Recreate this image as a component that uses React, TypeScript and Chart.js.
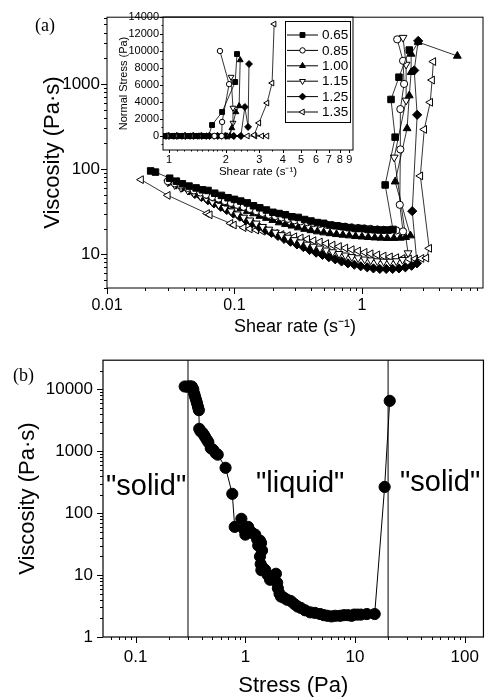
import React, { useEffect, useRef } from 'react';
import { Chart, registerables } from 'chart.js';
import { drawPoint } from 'chart.js/helpers';

Chart.register(...registerables);
Chart.defaults.font.family = "'Liberation Sans', Arial, Helvetica, sans-serif";
Chart.defaults.color = '#000';

// ---------------- Panel (a): viscosity vs shear rate ----------------
const seriesLabels = ['0.65', '0.85', '1.00', '1.15', '1.25', '1.35'];

const rate065 = [0.022, 0.024, 0.031, 0.035, 0.039, 0.044, 0.05, 0.056, 0.062, 0.07,
  0.079, 0.089, 0.1, 0.112, 0.126, 0.141, 0.158, 0.178, 0.2, 0.224,
  0.251, 0.282, 0.316, 0.355, 0.398, 0.447, 0.501, 0.562, 0.631, 0.708,
  0.794, 0.891, 1.0, 1.12, 1.26, 1.41, 1.58, 1.75,
  1.52, 1.82, 1.69, 1.95, 2.35];
const visc065 = [95, 92, 78, 72, 67, 63, 60, 57, 56, 52,
  49, 46, 44, 42, 40, 37, 35, 33, 31, 30,
  29, 27.5, 27, 25.5, 24.5, 23.5, 23, 22, 21.5, 21,
  20.5, 20, 20, 19.5, 19.3, 19.2, 19.2, 19.5,
  65, 237, 657, 1200, 2500];

const rate085 = [0.03, 0.034, 0.038, 0.043, 0.048, 0.054, 0.06, 0.067, 0.075, 0.084,
  0.094, 0.105, 0.118, 0.132, 0.148, 0.166, 0.186, 0.209, 0.234, 0.263,
  0.295, 0.331, 0.372, 0.417, 0.468, 0.525, 0.589, 0.661, 0.741, 0.832,
  0.933, 1.05, 1.17, 1.32, 1.48, 1.66, 1.86, 2.1,
  1.98, 2.0, 2.0, 2.14, 2.1, 1.89];
const visc085 = [72, 68, 64, 60, 56, 53, 50, 47, 45, 42,
  40, 38, 36, 34, 32, 30.5, 29, 28, 27, 26,
  25, 24.3, 23.7, 23.2, 22.7, 22.2, 21.8, 21.4, 21, 20.6,
  20.3, 20, 19.8, 19.5, 19.3, 19.2, 19, 18.5,
  38, 170, 506, 1000, 1870, 3340];

const rate100 = [0.032, 0.036, 0.04, 0.045, 0.05, 0.056, 0.063, 0.071, 0.079, 0.089,
  0.1, 0.112, 0.126, 0.141, 0.158, 0.178, 0.2, 0.224, 0.251, 0.282,
  0.316, 0.355, 0.398, 0.447, 0.501, 0.562, 0.631, 0.708, 0.794, 0.891,
  1.0, 1.12, 1.26, 1.41, 1.58, 1.78, 2.0, 2.2, 2.4,
  1.82, 2.26, 2.35, 2.43, 2.43, 2.76, 5.6];
const visc100 = [75, 70, 65, 60, 56, 52, 48, 45, 42, 39,
  37, 34.5, 32, 30, 28, 26.5, 25, 23.5, 22.5, 21.5,
  20.5, 19.7, 19, 18.4, 17.9, 17.5, 17.1, 16.8, 16.5, 16.2,
  16, 15.8, 15.6, 15.5, 15.4, 15.4, 15.5, 15.8, 16.5,
  71, 300, 730, 1370, 2250, 3100, 2130];

const rate115 = [0.03, 0.034, 0.038, 0.043, 0.048, 0.054, 0.06, 0.067, 0.075, 0.084,
  0.094, 0.105, 0.118, 0.132, 0.148, 0.166, 0.186, 0.209, 0.234, 0.263,
  0.295, 0.331, 0.372, 0.417, 0.468, 0.525, 0.589, 0.661, 0.741, 0.832,
  0.933, 1.05, 1.17, 1.32, 1.48, 1.66, 1.86, 2.08, 2.3,
  1.79, 2.22, 2.22, 2.1];
const visc115 = [70, 65, 60, 56, 52, 48, 45, 41, 38, 35,
  32, 29.5, 27, 25, 23, 21, 19.5, 18, 16.8, 15.7,
  14.7, 13.8, 13, 12.3, 11.7, 11.1, 10.6, 10.1, 9.7, 9.3,
  9.0, 8.7, 8.5, 8.3, 8.2, 8.2, 8.3, 8.6, 10.3,
  137, 640, 1690, 3500];

const rate125 = [0.031, 0.035, 0.039, 0.044, 0.049, 0.055, 0.062, 0.069, 0.078, 0.087,
  0.098, 0.11, 0.123, 0.138, 0.155, 0.174, 0.195, 0.219, 0.245, 0.275,
  0.309, 0.347, 0.389, 0.437, 0.49, 0.55, 0.617, 0.692, 0.776, 0.871,
  0.977, 1.1, 1.23, 1.38, 1.55, 1.74, 1.95, 2.19, 2.45, 2.7,
  2.48, 2.71, 2.57, 2.76];
const visc125 = [72, 66, 61, 56, 51, 47, 43, 39.5, 36, 33,
  30, 27.5, 25, 23, 21, 19.3, 17.8, 16.4, 15.1, 14,
  13, 12.1, 11.2, 10.4, 9.8, 9.2, 8.7, 8.2, 7.8, 7.5,
  7.2, 7.0, 6.8, 6.7, 6.7, 6.7, 6.8, 7.0, 7.3, 7.8,
  32, 433, 1440, 3200];

const rate135 = [0.0185, 0.03, 0.061, 0.064, 0.093, 0.099, 0.118, 0.132, 0.148, 0.166,
  0.186, 0.209, 0.234, 0.263, 0.295, 0.331, 0.372, 0.417, 0.468, 0.525,
  0.589, 0.661, 0.741, 0.832, 0.933, 1.05, 1.17, 1.32, 1.48, 1.66,
  1.86, 2.08, 2.34, 2.62, 2.93, 3.2, 3.37,
  2.87, 3.08, 3.43, 3.55, 3.63];
const visc135 = [75, 49, 30, 29, 23, 22, 20.5, 19.8, 19.2, 18.6,
  18, 17.5, 17, 16.5, 16, 15.5, 15, 14.4, 13.9, 13.3,
  12.8, 12.3, 11.8, 11.3, 10.9, 10.5, 10.1, 9.8, 9.5, 9.3,
  9.1, 8.9, 8.8, 8.8, 8.9, 9.0, 11.7,
  83, 292, 608, 1110, 1830];

const mainXMajor = [0.01, 0.1, 1];
const mainXMinor = [0.02, 0.03, 0.04, 0.05, 0.06, 0.07, 0.08, 0.09,
  0.2, 0.3, 0.4, 0.5, 0.6, 0.7, 0.8, 0.9, 2, 3, 4, 5, 6, 7, 8];
const mainYMajor = [10, 100, 1000];
const mainYMinor = [4, 5, 6, 7, 8, 9, 20, 30, 40, 50, 60, 70, 80, 90,
  200, 300, 400, 500, 600, 700, 800, 900, 2000, 3000, 4000, 5000, 6000];

// ---------------- Inset: normal stress vs shear rate ----------------
const nsRate065 = [0.95, 1.05, 1.16, 1.28, 1.41, 1.55, 1.62, 1.69, 1.91, 2.24, 2.29];
const ns065 = [0, 0, 0, 0, 0, 0, 0, 1290, 2820, 6350, 9640];
const nsRate085 = [0.97, 1.07, 1.18, 1.3, 1.43, 1.58, 1.74, 1.9, 1.91, 2.08, 1.86];
const ns085 = [0, 0, 0, 0, 0, 0, 0, 0, 1650, 6100, 10000];
const nsRate100 = [0.99, 1.1, 1.21, 1.34, 1.48, 1.63, 1.8, 1.98, 2.1, 2.15, 2.26, 2.35, 2.38];
const ns100 = [0, 0, 0, 0, 0, 0, 0, 0, 0, 940, 2820, 3530, 8940];
const nsRate115 = [0.96, 1.06, 1.17, 1.29, 1.42, 1.57, 1.73, 1.9, 2.08, 2.18, 2.18, 2.13];
const ns115 = [0, 0, 0, 0, 0, 0, 0, 0, 0, 1530, 3300, 6940];
const nsRate125 = [1.0, 1.1, 1.22, 1.35, 1.49, 1.64, 1.81, 2.0, 2.2, 2.4, 2.52, 2.62, 2.65];
const ns125 = [0, 0, 0, 0, 0, 0, 0, 0, 0, 0, 3410, 1060, 8470];
const nsRate135 = [0.95, 1.02, 1.1, 1.2, 1.3, 1.42, 1.55, 1.7, 1.85, 2.0,
  2.18, 2.38, 2.6, 2.85, 3.1, 3.3, 2.82, 2.99, 3.3, 3.51, 3.6];
const ns135 = [0, 0, 0, 0, 0, 0, 0, 0, 0, 0,
  0, 0, 0, 0, 0, 0, 120, 1530, 3880, 6230, 13170];

const insetXMajor = [1, 2, 3, 4, 5, 6, 7, 8, 9];
const insetXMinor = [1.1, 1.2, 1.3, 1.4, 1.5, 1.6, 1.7, 1.8, 1.9, 2.2, 2.4, 2.6, 2.8, 3.5];
const insetYMajor = [0, 2000, 4000, 6000, 8000, 10000, 12000, 14000];
const insetYMinor = [-1000, 1000, 3000, 5000, 7000, 9000, 11000, 13000];

// ---------------- Panel (b): viscosity vs stress ----------------
const stressB = [0.28, 0.295, 0.31, 0.325, 0.335, 0.342, 0.348, 0.355, 0.362, 0.37,
  0.377, 0.38, 0.39, 0.405, 0.418, 0.43, 0.445, 0.46, 0.484, 0.51,
  0.537, 0.56, 0.66, 0.76, 0.8, 0.92, 0.97, 1.0, 1.06, 1.1,
  1.15, 1.23, 1.28, 1.31, 1.36, 1.39, 1.42, 1.36, 1.38, 1.4,
  1.45, 1.52, 1.6, 1.68, 1.78, 1.9, 1.95, 1.98, 2.05, 2.11,
  2.25, 2.4, 2.6, 2.8, 3.0, 3.2, 3.5, 3.9, 4.3, 4.8,
  5.2, 5.6, 6.1, 6.6, 7.3, 7.9, 8.6, 9.3, 9.8, 10.5,
  11.3, 12.8, 15.1, 18.6, 20.7];
const viscB = [11100, 11000, 11200, 11100, 10000, 8500, 7600, 6800, 6000, 5200,
  4600, 2300, 2100, 2000, 1850, 1700, 1540, 1400, 1120, 1050,
  930, 880, 540, 205, 60, 81, 55, 45, 60, 52,
  48, 45, 38, 30, 36, 33, 25, 20, 15, 12,
  13, 12, 10, 8.4, 9.5, 10.5, 7.5, 6.1, 5.0, 4.5,
  4.3, 4.0, 3.8, 3.4, 3.1, 2.95, 2.7, 2.5, 2.45, 2.35,
  2.25, 2.2, 2.15, 2.2, 2.2, 2.25, 2.25, 2.2, 2.3, 2.3,
  2.3, 2.35, 2.35, 265, 6500];
const phaseBoundaries = [0.3, 20];
const phaseLabels = ['"solid"', '"liquid"', '"solid"'];

const bXMajor = [0.1, 1, 10, 100];
const bXMinor = [0.06, 0.07, 0.08, 0.09, 0.2, 0.3, 0.4, 0.5, 0.6, 0.7, 0.8, 0.9,
  2, 3, 4, 5, 6, 7, 8, 9, 20, 30, 40, 50, 60, 70, 80, 90];
const bYMajor = [1, 10, 100, 1000, 10000];
const bYMinor = [2, 3, 4, 5, 6, 7, 8, 9, 20, 30, 40, 50, 60, 70, 80, 90,
  200, 300, 400, 500, 600, 700, 800, 900, 2000, 3000, 4000, 5000, 6000, 7000, 8000, 9000, 20000];

// ---------------- styles ----------------
const markerStyles = [
  { pointStyle: 'rect', rotation: 0, fill: true, radius: 4.6 },
  { pointStyle: 'circle', rotation: 0, fill: false, radius: 3.6 },
  { pointStyle: 'triangle', rotation: 0, fill: true, radius: 4.5 },
  { pointStyle: 'triangle', rotation: 180, fill: false, radius: 4.5 },
  { pointStyle: 'rectRot', rotation: 0, fill: true, radius: 4.6 },
  { pointStyle: 'triangle', rotation: 270, fill: false, radius: 4.5 },
];

const mainSeries = [
  [rate065, visc065], [rate085, visc085], [rate100, visc100],
  [rate115, visc115], [rate125, visc125], [rate135, visc135],
];
const insetSeries = [
  [nsRate065, ns065], [nsRate085, ns085], [nsRate100, ns100],
  [nsRate115, ns115], [nsRate125, ns125], [nsRate135, ns135],
];

function pairs(xs: number[], ys: number[]) {
  return xs.map((x, i) => ({ x, y: ys[i] }));
}

function makeFramePlugin(o: {
  xMajor: number[]; xMinor: number[]; yMajor: number[]; yMinor: number[];
  majorLen: number; minorLen: number; width: number;
}) {
  return {
    id: 'frameTicks',
    afterDraw(chart: any) {
      const { ctx, chartArea: a, scales } = chart;
      ctx.save();
      ctx.strokeStyle = '#000';
      ctx.lineWidth = o.width;
      ctx.strokeRect(a.left, a.top, a.right - a.left, a.bottom - a.top);
      ctx.lineWidth = 1;
      ctx.beginPath();
      const xs = scales.x;
      const ys = scales.y;
      const xt = (v: number, len: number) => {
        if (v < xs.min || v > xs.max) return;
        const p = Math.round(xs.getPixelForValue(v)) + 0.5;
        ctx.moveTo(p, a.bottom);
        ctx.lineTo(p, a.bottom + len);
      };
      const yt = (v: number, len: number) => {
        if (v < ys.min || v > ys.max) return;
        const p = Math.round(ys.getPixelForValue(v)) + 0.5;
        ctx.moveTo(a.left, p);
        ctx.lineTo(a.left - len, p);
      };
      o.xMajor.forEach((v) => xt(v, o.majorLen));
      o.xMinor.forEach((v) => xt(v, o.minorLen));
      o.yMajor.forEach((v) => yt(v, o.majorLen));
      o.yMinor.forEach((v) => yt(v, o.minorLen));
      ctx.stroke();
      ctx.restore();
    },
  };
}

function makeTextsPlugin(items: { text: string; x: number; y: number; font: string }[]) {
  return {
    id: 'texts',
    afterDraw(chart: any) {
      const ctx = chart.ctx;
      ctx.save();
      ctx.fillStyle = '#000';
      ctx.textBaseline = 'alphabetic';
      ctx.textAlign = 'left';
      items.forEach((it) => {
        ctx.font = it.font;
        ctx.fillText(it.text, it.x, it.y);
      });
      ctx.restore();
    },
  };
}

function makeLegendPlugin(o: {
  box: number[]; firstRow: number; rowStep: number; lineX0: number; lineX1: number;
  textX: number; font: string; scale: number;
}) {
  return {
    id: 'insetLegend',
    afterDatasetsDraw(chart: any) {
      const ctx = chart.ctx;
      ctx.save();
      const [l, t, r, b] = o.box;
      ctx.fillStyle = '#fff';
      ctx.fillRect(l, t, r - l, b - t);
      ctx.strokeStyle = '#000';
      ctx.lineWidth = 1;
      ctx.strokeRect(l + 0.5, t + 0.5, r - l, b - t);
      chart.data.datasets.forEach((ds: any, i: number) => {
        const y = o.firstRow + i * o.rowStep;
        ctx.beginPath();
        ctx.strokeStyle = '#000';
        ctx.lineWidth = 1;
        ctx.moveTo(o.lineX0, y);
        ctx.lineTo(o.lineX1, y);
        ctx.stroke();
        ctx.fillStyle = ds.pointBackgroundColor;
        ctx.strokeStyle = '#000';
        ctx.lineWidth = 1;
        drawPoint(ctx, {
          pointStyle: ds.pointStyle, rotation: ds.pointRotation,
          radius: ds.pointRadius * o.scale, borderWidth: 1,
        } as any, (o.lineX0 + o.lineX1) / 2, y);
        ctx.fillStyle = '#000';
        ctx.font = o.font;
        ctx.textBaseline = 'middle';
        ctx.textAlign = 'left';
        ctx.fillText(ds.label, o.textX, y + 0.5);
      });
      ctx.restore();
    },
  };
}

function axis(o: {
  type: string; min: number; max: number; major: number[]; horizontal: boolean; size: number;
  fontSize: number; padding: number; title: string; titleSize: number; titlePad: any;
}) {
  return {
    type: o.type,
    min: o.min,
    max: o.max,
    afterBuildTicks: (s: any) => { s.ticks = o.major.map((value) => ({ value })); },
    afterFit: (s: any) => { if (o.horizontal) s.height = o.size; else s.width = o.size; },
    grid: { display: false, drawTicks: false },
    border: { display: false },
    ticks: {
      autoSkip: false, maxRotation: 0, minRotation: 0, padding: o.padding,
      font: { size: o.fontSize }, color: '#000',
      callback: (v: any) => String(v),
    },
    title: {
      display: true, text: o.title, color: '#000',
      font: { size: o.titleSize }, padding: o.titlePad,
    },
  };
}

function lineDataset(label: string, data: any[], i: number, scale: number, bw: number) {
  const ms = markerStyles[i];
  return {
    label,
    data,
    borderColor: '#000',
    borderWidth: bw,
    pointStyle: ms.pointStyle,
    pointRotation: ms.rotation,
    pointRadius: ms.radius * scale,
    pointBackgroundColor: ms.fill ? '#000' : '#fff',
    pointBorderColor: '#000',
    pointBorderWidth: 1,
    fill: false,
    tension: 0,
  };
}

export default function App() {
  const refA = useRef<HTMLCanvasElement>(null);
  const refInset = useRef<HTMLCanvasElement>(null);
  const refB = useRef<HTMLCanvasElement>(null);

  useEffect(() => {
    const charts: Chart[] = [];

    // Panel (a)
    charts.push(new Chart(refA.current as HTMLCanvasElement, {
      type: 'line',
      data: {
        datasets: mainSeries.map(([xs, ys], i) =>
          lineDataset(seriesLabels[i], pairs(xs, ys), i, 1, 0.8)) as any,
      },
      options: {
        responsive: false,
        animation: false,
        events: [],
        layout: { autoPadding: false, padding: { left: 0, top: 8, right: 6, bottom: 0 } },
        plugins: { legend: { display: false }, tooltip: { enabled: false } },
        scales: {
          x: axis({ type: 'logarithmic', min: 0.01, max: 8.9, major: mainXMajor, horizontal: true, size: 57,
            fontSize: 16, padding: 8, title: 'Shear rate (s\u207B\u00B9)', titleSize: 18, titlePad: { top: 0, bottom: 7 } }),
          y: axis({ type: 'logarithmic', min: 4, max: 6080, major: mainYMajor, horizontal: false, size: 107,
            fontSize: 17, padding: 7, title: 'Viscosity (Pa\u00B7s)', titleSize: 22, titlePad: { top: 40, bottom: 0 } }),
        } as any,
      },
      plugins: [
        makeFramePlugin({ xMajor: mainXMajor, xMinor: mainXMinor, yMajor: mainYMajor, yMinor: mainYMinor, majorLen: 6, minorLen: 3, width: 1 }),
        makeTextsPlugin([{ text: '(a)', x: 35, y: 31, font: "18px 'Liberation Serif', 'Times New Roman', serif" }]),
      ],
    } as any));

    // Inset
    charts.push(new Chart(refInset.current as HTMLCanvasElement, {
      type: 'line',
      data: {
        datasets: insetSeries.map(([xs, ys], i) =>
          lineDataset(seriesLabels[i], pairs(xs, ys), i, 0.75, 0.8)) as any,
      },
      options: {
        responsive: false,
        animation: false,
        events: [],
        layout: { autoPadding: false, padding: { left: 0, top: 12, right: 12, bottom: 0 } },
        plugins: { legend: { display: false }, tooltip: { enabled: false } },
        scales: {
          x: axis({ type: 'logarithmic', min: 0.93, max: 9.4, major: insetXMajor, horizontal: true, size: 35,
            fontSize: 11, padding: 3, title: 'Shear rate (s\u207B\u00B9)', titleSize: 11.5, titlePad: { top: 0, bottom: 6 } }),
          y: axis({ type: 'linear', min: -1650, max: 14000, major: insetYMajor, horizontal: false, size: 63,
            fontSize: 11, padding: 4, title: 'Normal Stress (Pa)', titleSize: 11, titlePad: { top: 17, bottom: 0 } }),
        } as any,
      },
      plugins: [
        makeFramePlugin({ xMajor: insetXMajor, xMinor: insetXMinor, yMajor: insetYMajor, yMinor: insetYMinor, majorLen: 3, minorLen: 1.5, width: 1 }),
        makeLegendPlugin({ box: [185, 16, 250, 117], firstRow: 30, rowStep: 15.4, lineX0: 187, lineX1: 218,
          textX: 222, font: "13.5px 'Liberation Sans', Arial, sans-serif", scale: 1 }),
      ],
    } as any));

    // Panel (b)
    const bYMin = 1;
    const bYMax = 29500;
    charts.push(new Chart(refB.current as HTMLCanvasElement, {
      type: 'line',
      data: {
        datasets: [
          {
            label: 'viscosity',
            data: pairs(stressB, viscB),
            borderColor: '#000',
            borderWidth: 1,
            pointStyle: 'circle',
            pointRadius: 5.6,
            pointBackgroundColor: '#000',
            pointBorderColor: '#000',
            pointBorderWidth: 1,
            fill: false,
            tension: 0,
          },
          ...phaseBoundaries.map((b) => ({
            label: 'boundary ' + b,
            data: [{ x: b, y: bYMin }, { x: b, y: bYMax }],
            borderColor: '#000',
            borderWidth: 1,
            pointRadius: 0,
            fill: false,
          })),
        ] as any,
      },
      options: {
        responsive: false,
        animation: false,
        events: [],
        layout: { autoPadding: false, padding: { left: 0, top: 11, right: 1, bottom: 0 } },
        plugins: { legend: { display: false }, tooltip: { enabled: false } },
        scales: {
          x: axis({ type: 'logarithmic', min: 0.0504, max: 148, major: bXMajor, horizontal: true, size: 63,
            fontSize: 17, padding: 10, title: 'Stress (Pa)', titleSize: 22, titlePad: { top: 0, bottom: 1 } }),
          y: axis({ type: 'logarithmic', min: bYMin, max: bYMax, major: bYMajor, horizontal: false, size: 103,
            fontSize: 17, padding: 10, title: 'Viscosity (Pa\u00B7s)', titleSize: 22, titlePad: { top: 15, bottom: 0 } }),
        } as any,
      },
      plugins: [
        makeFramePlugin({ xMajor: bXMajor, xMinor: bXMinor, yMajor: bYMajor, yMinor: bYMinor, majorLen: 6, minorLen: 3, width: 1.2 }),
        makeTextsPlugin([
          { text: '(b)', x: 13, y: 41, font: "18px 'Liberation Serif', 'Times New Roman', serif" },
          { text: phaseLabels[0], x: 106, y: 155, font: "29px 'Liberation Sans', Arial, sans-serif" },
          { text: phaseLabels[1], x: 256, y: 152, font: "29px 'Liberation Sans', Arial, sans-serif" },
          { text: phaseLabels[2], x: 400, y: 151, font: "29px 'Liberation Sans', Arial, sans-serif" },
        ]),
      ],
    } as any));

    return () => { charts.forEach((c) => c.destroy()); };
  }, []);

  return (
    <div style={{ position: 'absolute', left: 0, top: 0, width: 489, height: 700, background: '#fff', overflow: 'hidden' }}>
      <canvas ref={refA} width={489} height={345} style={{ position: 'absolute', left: 0, top: 0, width: 489, height: 345 }} />
      <canvas ref={refB} width={489} height={360} style={{ position: 'absolute', left: 0, top: 340, width: 489, height: 360 }} />
      <canvas ref={refInset} width={265} height={180} style={{ position: 'absolute', left: 100, top: 5, width: 265, height: 180 }} />
    </div>
  );
}
